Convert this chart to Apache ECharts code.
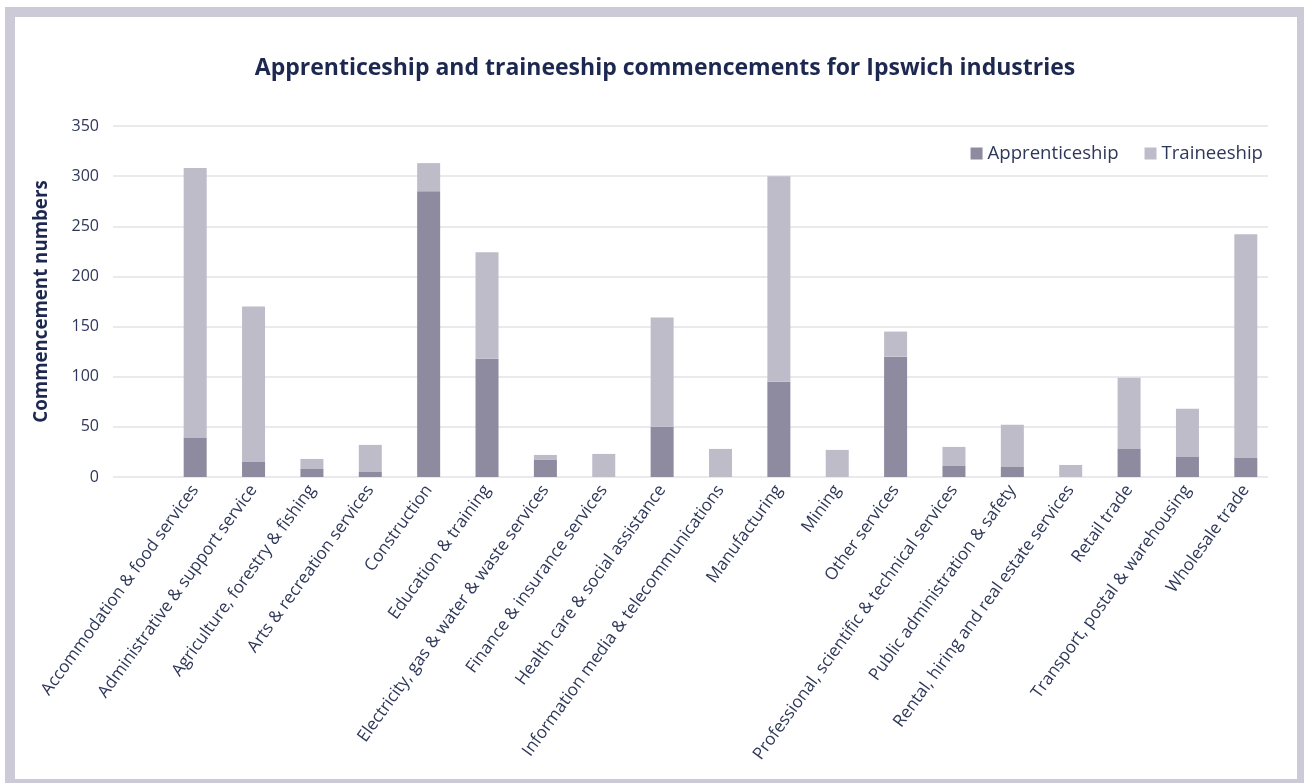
<!DOCTYPE html>
<html>
<head>
<meta charset="utf-8">
<style>
  html, body { margin: 0; padding: 0; background: #ffffff; }
  #chart { width: 1304px; height: 783px; }
</style>
<script src="https://cdn.jsdelivr.net/npm/echarts@6/dist/echarts.min.js"></script>
</head>
<body>
<div id="chart"></div>
<script>
// Industry categories (x axis)
const industries = [
  'Accommodation & food services',
  'Administrative & support service',
  'Agriculture, forestry & fishing',
  'Arts & recreation services',
  'Construction',
  'Education & training',
  'Electricity, gas & water & waste services',
  'Finance & insurance services',
  'Health care & social assistance',
  'Information media & telecommunications',
  'Manufacturing',
  'Mining',
  'Other services',
  'Professional, scientific & technical services',
  'Public administration & safety',
  'Rental, hiring and real estate services',
  'Retail trade',
  'Transport, postal & warehousing',
  'Wholesale trade'
];

// Commencements by type
const apprenticeship = [39, 15, 8, 5, 285, 118, 17, 0, 50, 0, 95, 0, 120, 11, 10, 0, 28, 20, 19];
const traineeship   = [269, 155, 10, 27, 28, 106, 5, 23, 109, 28, 205, 27, 25, 19, 42, 12, 71, 48, 223];

// Value axis ticks
const yMin = 0;
const yMax = 350;
const yStep = 50;

const font = 'Open Sans';
const textColor = '#2E3759';
const titleColor = '#1D2850';
const gridColor = '#E3E2E9';
const apprColor = '#8E8A9F';
const trainColor = '#BEBCC9';
const frameColor = '#CBCAD6';

const chart = echarts.init(document.getElementById('chart'), null, { renderer: 'canvas' });

chart.setOption({
  animation: false,
  backgroundColor: '#ffffff',
  textStyle: { fontFamily: font },
  graphic: [
    { type: 'rect', z: -20, silent: true,
      shape: { x: 5, y: 7, width: 1310, height: 790 },
      style: { fill: frameColor } },
    { type: 'rect', z: -19, silent: true,
      shape: { x: 15, y: 17, width: 1282, height: 762 },
      style: { fill: '#ffffff' } }
  ],
  title: {
    text: 'Apprenticeship and traineeship commencements for Ipswich industries',
    left: 660,
    textAlign: 'center',
    top: 52,
    textStyle: { fontFamily: font, fontWeight: 'bold', fontSize: 23, color: titleColor }
  },
  legend: {
    right: 36,
    top: 139,
    itemWidth: 12,
    itemHeight: 12,
    itemGap: 26,
    icon: 'rect',
    textStyle: { fontFamily: font, fontSize: 18.6, color: textColor },
    data: ['Apprenticeship', 'Traineeship']
  },
  grid: [
    // gridlines and value labels
    { left: 113, right: 36, top: 126, bottom: 306, containLabel: false },
    // bars and category labels
    { left: 166, right: 29, top: 126, bottom: 306, containLabel: false }
  ],
  xAxis: [
    { type: 'category', gridIndex: 0, data: industries, show: false },
    {
      type: 'category',
      gridIndex: 1,
      data: industries,
      axisLine: { show: false },
      axisTick: { show: false },
      axisLabel: {
        interval: 0,
        rotate: 54,
        margin: 10,
        fontFamily: font,
        fontSize: 17,
        color: textColor
      }
    }
  ],
  yAxis: [
    {
      type: 'value',
      gridIndex: 0,
      min: yMin,
      max: yMax,
      interval: yStep,
      name: 'Commencement numbers',
      nameLocation: 'middle',
      nameGap: 62,
      nameTextStyle: { fontFamily: font, fontWeight: 'bold', fontSize: 18.7, color: titleColor },
      axisLine: { show: false },
      axisTick: { show: false },
      axisLabel: { margin: 14, fontFamily: font, fontSize: 16, color: textColor },
      splitLine: { lineStyle: { color: gridColor, width: 1.5 } }
    },
    {
      type: 'value',
      gridIndex: 1,
      min: yMin,
      max: yMax,
      interval: yStep,
      show: false,
      splitLine: { show: false }
    }
  ],
  series: [
    {
      name: 'Apprenticeship',
      type: 'bar',
      stack: 'total',
      xAxisIndex: 1,
      yAxisIndex: 1,
      barWidth: 23,
      itemStyle: { color: apprColor },
      data: apprenticeship
    },
    {
      name: 'Traineeship',
      type: 'bar',
      stack: 'total',
      xAxisIndex: 1,
      yAxisIndex: 1,
      barWidth: 23,
      itemStyle: { color: trainColor },
      data: traineeship
    }
  ]
});
</script>
</body>
</html>
